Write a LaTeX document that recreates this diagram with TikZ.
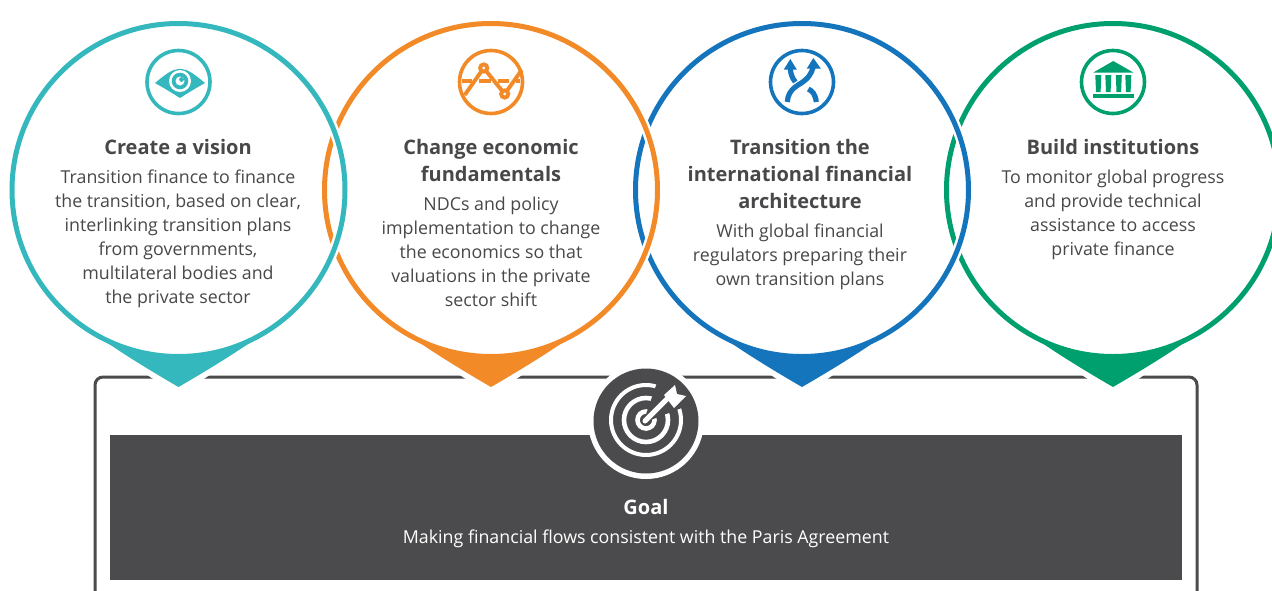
\documentclass[tikz,border=0pt]{standalone}
\usepackage{fontspec}
\setmainfont{Open Sans}
\definecolor{cteal}{HTML}{35B8BD}
\definecolor{corange}{HTML}{F28A27}
\definecolor{cblue}{HTML}{1474BC}
\definecolor{cgreen}{HTML}{00A06E}
\definecolor{cdark}{HTML}{4B4B4D}
\definecolor{ctext}{HTML}{48484A}
\newcommand{\px}{0.75pt}
\newcommand{\bubble}[2]{%
  \draw[white,line width=10*\px] (#1,190) circle[radius=166.5];
  \draw[white,line width=14*\px,line join=round] (#1,387) -- (#1+112,314) -- (#1-112,314) -- cycle;
  \draw[#2,line width=5*\px] (#1,190) circle[radius=166.5];
  \fill[#2] (#1,387) .. controls (#1+50,358) and (#1+90,332) .. (#1+120,305.6)
     .. controls (#1+89,338) and (#1+45,356.5) .. (#1,356.5)
     .. controls (#1-45,356.5) and (#1-89,338) .. (#1-120,305.6)
     .. controls (#1-90,332) and (#1-50,358) .. (#1,387) -- cycle;
  \draw[#2,line width=3.6*\px] (#1,82) circle[radius=31.5];
}
\tikzset{
  x=0.75pt,y=-0.75pt,
  titletext/.style={font=\fontsize{15}{20.25}\selectfont\bfseries,text=ctext,align=center,anchor=north,inner sep=0pt},
  bodytext/.style={font=\fontsize{13.35}{18}\selectfont,text=ctext,align=center,anchor=north,inner sep=0pt},
}
\begin{document}
\begin{tikzpicture}
\useasboundingbox (0,0) rectangle (1272,590);
\clip (0,0) rectangle (1272,590);
\fill[white] (0,0) rectangle (1272,590);
% goal box
\draw[cdark,line width=3*\px,rounded corners=6pt] (95,620) -- (95,377) -- (1197,377) -- (1197,620);
\fill[cdark] (110,435) rectangle (1182,580);
% bubbles right to left
\bubble{1113}{cgreen}
\bubble{802}{cblue}
\bubble{491}{corange}
\bubble{178.5}{cteal}
% eye icon
\begin{scope}[shift={(180,82)}]
  \fill[cteal] (-25,1) .. controls (-14,-8) and (-8,-13) .. (0,-13) .. controls (8,-13) and (14,-8) .. (25,1) .. controls (16,6) and (8,11) .. (0,16) .. controls (-8,11) and (-16,6) .. (-25,1) -- cycle;
  \fill[white] (0,-1) circle[radius=11];
  \fill[cteal] (0,-1) circle[radius=8.3];
  \fill[white] (0,-1) circle[radius=4.5];
  \fill[cteal] (1.5,-2.5) circle[radius=2.4];
\end{scope}
% economics icon
\begin{scope}[shift={(490.7,82)},line width=3.9*\px]
  \draw[corange] (-29,-1) -- (-19,-1) (-12,-1) -- (0,-1) (7,-1) -- (18,-1) (25,-1) -- (29,-1);
  \draw[corange,line join=round] (-26,13) -- (-7,-14) -- (14,12) -- (31,-12);
  \draw[corange,fill=white] (-7,-14) circle[radius=3.6];
  \draw[corange,fill=white] (14,12) circle[radius=3.6];
\end{scope}
% crossing arrows icon
\begin{scope}[shift={(802.3,82)}]
  \draw[cblue,line width=5.2*\px] (-15,20) .. controls (-14,6) and (-4,4) .. (3,-2) .. controls (9,-7) and (11,-14) .. (11,-17);
  \draw[cblue,line width=5.2*\px] (14,20) .. controls (13,12) and (10,9) .. (6,7);
  \draw[cblue,line width=5.2*\px] (-7,0) .. controls (-11,-5) and (-12,-10) .. (-12,-15);
  \fill[cblue] (-12,-23) -- (-18.5,-12.5) -- (-5.5,-12.5) -- cycle;
  \fill[cblue] (11,-24) -- (4.5,-13.5) -- (18.5,-13.5) -- cycle;
\end{scope}
% institution icon
\begin{scope}[shift={(1113.3,82)}]
  \fill[cgreen] (0,-21) -- (20,-9.5) -- (-20,-9.5) -- cycle;
  \fill[cgreen] (-20,12) rectangle (20.5,15.5);
  \foreach \c in {-15,-5,5.5,15}{\fill[cgreen] (\c-3,-7) -- (\c+3,-7) -- (\c+2.3,10) -- (\c-2.3,10) -- cycle;}
\end{scope}
% target icon
\fill[white] (646,421) circle[radius=58];
\fill[cdark] (646,421) circle[radius=52.5];
\begin{scope}[shift={(646,420)}]
  \draw[white,line width=4*\px] (0,0) circle[radius=35];
  \draw[white,line width=4.6*\px] (0,0) circle[radius=22];
  \draw[white,line width=4.6*\px] (0,0) circle[radius=8.5];
  \fill[cdark] (-3,3) -- (14,-46) -- (46,-16) -- cycle;
  \draw[white,line width=5*\px,line cap=round] (-1,1) -- (24,-24);
  \fill[white] (18,-25) -- (29,-35) -- (31,-26) -- (40,-24) -- (28,-12) -- cycle;
\end{scope}
% texts
\node[titletext] (t1) at (178,139) {Create a vision};
\node[bodytext] (b1) at (178,169.5) {Transition finance to finance\\the transition, based on clear,\\interlinking transition plans\\from governments,\\multilateral bodies and\\the private sector};
\node[titletext] (t2) at (491,139) {Change economic\\fundamentals};
\node[bodytext] (b2) at (491,196.5) {NDCs and policy\\implementation to change\\the economics so that\\valuations in the private\\sector shift};
\node[titletext] (t3) at (800,139) {Transition the\\international financial\\architecture};
\node[bodytext] (b3) at (800,223.5) {With global financial\\regulators preparing their\\own transition plans};
\node[titletext] (t4) at (1113,139) {Build institutions};
\node[bodytext] (b4) at (1113,169.5) {To monitor global progress\\and provide technical\\assistance to access\\private finance};
\node[titletext,text=white] (g1) at (646,499) {Goal};
\node[bodytext,text=white] (g2) at (646,529.5) {Making financial flows consistent with the Paris Agreement};
\end{tikzpicture}
\end{document}
